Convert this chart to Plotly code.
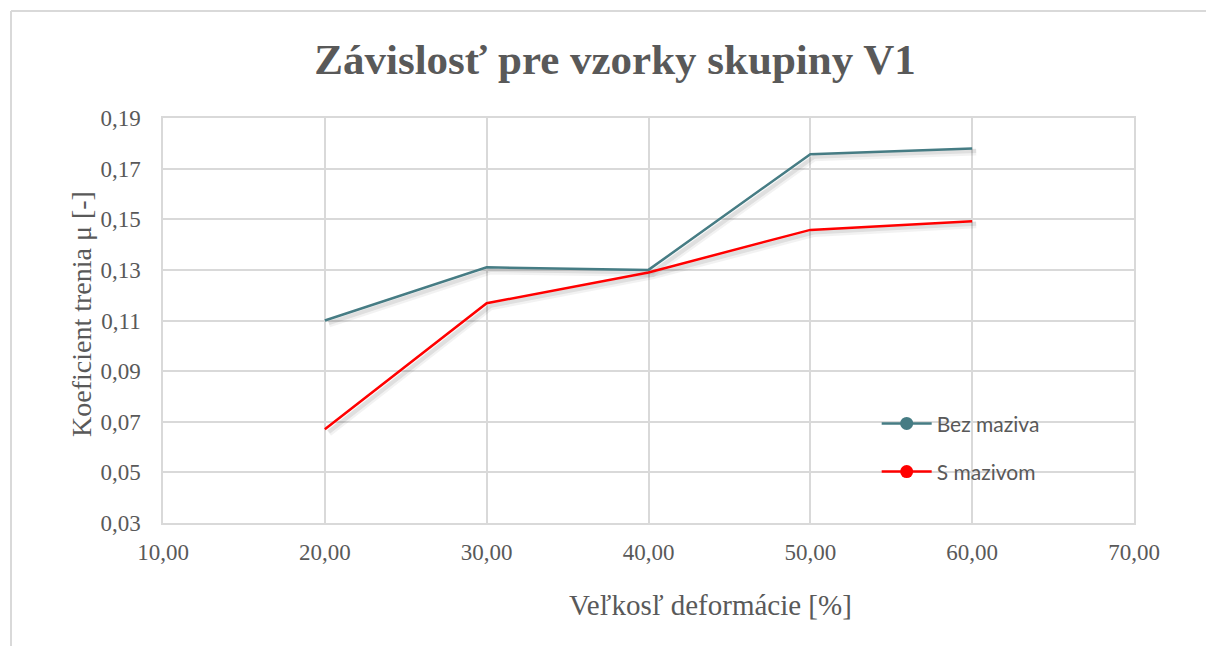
import plotly.graph_objects as go

# Deformation size [%]
deformacia = [20, 30, 40, 50, 60]
# Friction coefficient without lubricant
bez_maziva = [0.110, 0.131, 0.130, 0.1757, 0.178]
# Friction coefficient with lubricant
s_mazivom = [0.067, 0.1168, 0.129, 0.1458, 0.1492]

x_ticks = [10, 20, 30, 40, 50, 60, 70]
x_ticktext = ["10,00", "20,00", "30,00", "40,00", "50,00", "60,00", "70,00"]
y_ticks = [0.03, 0.05, 0.07, 0.09, 0.11, 0.13, 0.15, 0.17, 0.19]
y_ticktext = ["0,03", "0,05", "0,07", "0,09", "0,11", "0,13", "0,15", "0,17", "0,19"]

TEAL = "#467c84"
RED = "#ff0000"
TEXT = "#595959"
GRID = "#d9d9d9"
SERIF = "Liberation Serif, Times New Roman, serif"

W, H = 1206, 646
L, R, T, B = 163, 72, 118, 123
PW, PH = W - L - R, H - T - B


def px_x(px):
    return (px - L) / PW


def px_y(py):
    return (H - B - py) / PH


series = [("Bez maziva", bez_maziva, TEAL, "legend"),
          ("S mazivom", s_mazivom, RED, "legend2")]

fig = go.Figure()

# soft drop shadow under each line
for name, vals, color, lg in series:
    for w, a, dy in [(7, 0.05, 0.0014), (4, 0.08, 0.0010)]:
        fig.add_trace(go.Scatter(
            x=[v + 0.25 for v in deformacia], y=[v - dy for v in vals],
            mode="lines", line=dict(color=f"rgba(0,0,0,{a})", width=w),
            showlegend=False, hoverinfo="skip"))

for name, vals, color, lg in series:
    fig.add_trace(go.Scatter(
        x=deformacia, y=vals, mode="lines", name=name,
        line=dict(color=color, width=2.5), showlegend=False))
    # legend entry with a marker on the line symbol
    fig.add_trace(go.Scatter(
        x=[None], y=[None], mode="lines+markers", name=name,
        line=dict(color=color, width=2.5),
        marker=dict(color=color, size=13, symbol="circle"),
        legend=lg, showlegend=True))

legend_common = dict(
    font=dict(family="Lato, Carlito, Calibri, sans-serif", size=21, color=TEXT),
    bgcolor="rgba(0,0,0,0)", itemwidth=50, xanchor="left", yanchor="middle")

fig.update_layout(
    width=W, height=H,
    margin=dict(l=L, r=R, t=T, b=B),
    paper_bgcolor="white", plot_bgcolor="white",
    title=dict(text="<b>Závislosť pre vzorky skupiny V1</b>",
               font=dict(family=SERIF, size=43, color=TEXT),
               x=615 / W, xanchor="center", y=1 - 59 / H, yanchor="middle"),
    xaxis=dict(range=[10, 70], tickvals=x_ticks, ticktext=x_ticktext,
               showgrid=True, gridcolor=GRID, gridwidth=1.5,
               showline=True, linecolor=GRID, linewidth=1.5, mirror=True,
               ticks="outside", ticklen=8, tickcolor="rgba(0,0,0,0)",
               tickfont=dict(family=SERIF, size=23, color=TEXT),
               zeroline=False),
    yaxis=dict(range=[0.03, 0.19], tickvals=y_ticks, ticktext=y_ticktext,
               showgrid=True, gridcolor=GRID, gridwidth=1.5,
               showline=True, linecolor=GRID, linewidth=1.5, mirror=True,
               ticks="outside", ticklen=16, tickcolor="rgba(0,0,0,0)",
               tickfont=dict(family=SERIF, size=23, color=TEXT),
               zeroline=False),
    legend=dict(x=0.735, y=0.245, **legend_common),
    legend2=dict(x=0.735, y=0.126, **legend_common),
    annotations=[
        dict(text="Veľkosľ deformácie [%]", xref="paper", yref="paper",
             x=px_x(710), y=px_y(605), xanchor="center", yanchor="middle",
             showarrow=False, font=dict(family=SERIF, size=29, color=TEXT)),
        dict(text="Koeficient trenia μ [-]", xref="paper", yref="paper",
             x=px_x(81), y=px_y(314), xanchor="center", yanchor="middle",
             textangle=-90, showarrow=False,
             font=dict(family=SERIF, size=28, color=TEXT)),
    ],
    shapes=[
        # chart frame (left and top edges)
        dict(type="line", xref="paper", yref="paper",
             x0=px_x(11), x1=px_x(11), y0=px_y(660), y1=px_y(11),
             line=dict(color=GRID, width=2)),
        dict(type="line", xref="paper", yref="paper",
             x0=px_x(11), x1=px_x(1220), y0=px_y(11), y1=px_y(11),
             line=dict(color=GRID, width=2)),
    ],
)

fig.write_html("out.html")
